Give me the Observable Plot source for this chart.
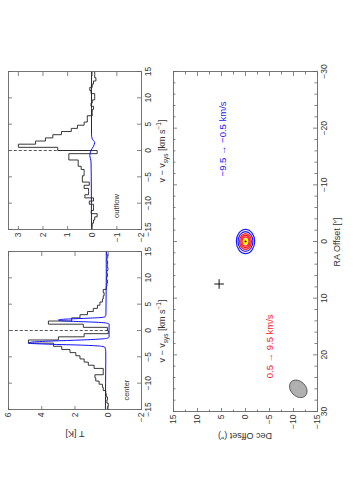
<!DOCTYPE html>
<html>
<head>
<meta charset="utf-8">
<script src="https://cdn.jsdelivr.net/npm/d3@7"></script>
<script src="https://cdn.jsdelivr.net/npm/@observablehq/plot@0.6"></script>
<style>
  html, body { margin: 0; padding: 0; background: #fff; width: 353px; height: 500px; overflow: hidden; }
  #fig { position: absolute; left: 0; top: 500px; width: 500px; height: 353px;
         transform-origin: 0 0; transform: rotate(-90deg);
         font-family: "Liberation Sans", Arial, sans-serif; color: #333; }
  #fig svg { position: absolute; overflow: visible; }
  .lab { position: absolute; white-space: nowrap; font-size: 9px; color: #333; line-height: 1; }
  .lab sub, .lab sup { font-size: 6.5px; }
</style>
</head>
<body>
<div id="fig"></div>
<script>
// ---------- data ----------
const velEdges = [-15,-14.4,-13.8,-13.2,-12.6,-12,-11.4,-10.8,-10.2,-9.6,-9,-8.4,-7.8,-7.2,-6.6,-6,-5.4,-4.8,-4.2,-3.6,-3,-2.4,-1.8,-1.2,-0.6,0,0.6,1.2,1.8,2.4,3,3.6,4.2,4.8,5.4,6,6.6,7.2,7.8,8.4,9,9.6,10.2,10.8,11.4,12,12.6,13.2,13.8,14.4];
const centerT = [0.05,0.0,0.08,0.05,0.12,0.15,0.3,0.35,0.55,0.75,0.8,0.3,0.3,0.85,1.2,1.45,1.7,1.95,2.3,2.8,
                 3.3,4.8,3.0,1.45,0.0,0.05,1.5,3.6,2.2,1.7,1.25,0.9,0.65,0.5,0.35,0.3,0.25,0.3,0.12,0.08,
                 0.05,0.1,0.05,0.08,0.02,0.06,0.04,0.08,0.03,0.1];
const outflowT = [0.02,0.0,-0.05,-0.1,-0.2,0.04,-0.05,-0.05,0.12,-0.05,0.3,0.15,0.15,0.33,0.12,0.4,0.4,0.33,0.33,0.45,
                  0.57,0.57,0.95,0.95,-0.2,1.4,3.0,2.3,1.9,1.6,1.25,0.85,0.6,0.33,0.2,0.2,0.0,0.0,-0.05,0.05,
                  0.0,-0.1,-0.1,0.05,0.1,0.0,-0.05,-0.15,-0.1,-0.1];
const centerModelV = [-15,-10,-6,-4,-3.2,-3.0,-2.8,-2.6,-2.4,-2.2,-2.0,-1.8,-1.6,-1.4,-1.2,0,1.2,1.4,1.55,1.7,1.85,2.0,2.15,2.3,2.45,2.6,3.0,6,10,15];
const centerModelT = [0.17,0.16,0.15,0.15,0.2,0.4,1.4,3.6,4.8,4.6,3.4,1.6,0.4,0.0,-0.05,-0.05,-0.05,0.1,0.6,1.8,2.8,3.0,2.6,1.5,0.5,0.2,0.14,0.13,0.12,0.12];
const outflowModelV = [-15,-5,-2,-1,0,0.8,1.5,2.2,3,8,15];
const outflowModelT = [0.03,0.04,0.05,0.1,0.05,-0.05,-0.1,0.0,0.03,0.03,0.03];

const velTicks = [-15,-10,-5,0,5,10,15];
const centerTTicks = [-2,0,2,4,6];
const outflowTTicks = [-2,-1,0,1,2,3];
const raTicks = [-30,-20,-10,0,10,20,30];
const raMinor = [-28,-26,-24,-22,-18,-16,-14,-12,-8,-6,-4,-2,2,4,6,8,12,14,16,18,22,24,26,28];
const decTicks = [-15,-10,-5,0,5,10,15];
const decMinor = [-12.5,-7.5,-2.5,2.5,7.5,12.5];

const blueContourRx = [2.15, 1.75];
const redContourRx = [1.4, 1.1, 0.82];
const coreRx = [0.55];
const sourcePos = [{ra: 0, dec: 0}];
const crossPos = [{ra: 7.5, dec: 5.5}];
const beam = [{ra: 26, dec: -11, rx: 1.75}];
const blueLabel = "\u22129.5 \u2192 \u22120.5 km/s";
const redLabel = "0.5 \u2192 9.5 km/s";

// ---------- helpers ----------
const fmt = d => (d < 0 ? "\u2212" + Math.abs(d) : String(d));
const frameC = "#666";
const FONT = "'Liberation Sans', Arial, sans-serif";
const fig = document.getElementById("fig");

function ellipseSymbol(ratio) {
  const k = 0.5523;
  return {
    draw(ctx, size) {
      const rx = Math.sqrt(size / Math.PI), ry = rx * ratio;
      ctx.moveTo(rx, 0);
      ctx.bezierCurveTo(rx, ry * k, rx * k, ry, 0, ry);
      ctx.bezierCurveTo(-rx * k, ry, -rx, ry * k, -rx, 0);
      ctx.bezierCurveTo(-rx, -ry * k, -rx * k, -ry, 0, -ry);
      ctx.bezierCurveTo(rx * k, -ry, rx, -ry * k, rx, 0);
      ctx.closePath();
    }
  };
}

function inward(xMaj, xMin, yMaj, yMin, fw, fh) {
  const o = {stroke: frameC, strokeWidth: 0.8};
  const m = [];
  m.push(Plot.tickX(xMaj, {x: d => d, insetTop: fh - 4, ...o}));
  m.push(Plot.tickX(xMaj, {x: d => d, insetBottom: fh - 4, ...o}));
  m.push(Plot.tickY(yMaj, {y: d => d, insetRight: fw - 4, ...o}));
  m.push(Plot.tickY(yMaj, {y: d => d, insetLeft: fw - 4, ...o}));
  if (xMin.length) {
    m.push(Plot.tickX(xMin, {x: d => d, insetTop: fh - 2.5, ...o}));
    m.push(Plot.tickX(xMin, {x: d => d, insetBottom: fh - 2.5, ...o}));
  }
  if (yMin.length) {
    m.push(Plot.tickY(yMin, {y: d => d, insetRight: fw - 2.5, ...o}));
    m.push(Plot.tickY(yMin, {y: d => d, insetLeft: fw - 2.5, ...o}));
  }
  return m;
}

function addLabel(html, cx, cy, rotate) {
  const d = document.createElement("div");
  d.className = "lab";
  d.innerHTML = html;
  d.style.left = cx + "px";
  d.style.top = cy + "px";
  d.style.transform = "translate(-50%,-50%)" + (rotate ? " rotate(" + rotate + "deg)" : "");
  fig.appendChild(d);
}

function spectrum(T, mV, mT, yDomain, yTicks, name, namePos, left) {
  const W = 208, H = 181, mL = 40, mR = 10, mTop = 8, mB = 40;
  const fw = W - mL - mR, fh = H - mTop - mB;
  const hist = velEdges.map((v, i) => ({v, T: T[i]}));
  hist.push({v: 15, T: T[T.length - 1]});
  const model = mV.map((v, i) => ({v, T: mT[i]}));
  const p = Plot.plot({
    width: W, height: H, marginLeft: mL, marginRight: mR, marginTop: mTop, marginBottom: mB,
    style: {fontFamily: FONT, fontSize: "8.5px", color: "#333", background: "none", overflow: "visible"},
    x: {domain: [-15, 15], ticks: velTicks, tickSize: 0, tickPadding: 3, tickFormat: fmt, label: null},
    y: {domain: yDomain, ticks: yTicks, tickSize: 0, tickPadding: 3, tickFormat: fmt, label: null},
    marks: [
      Plot.ruleX([0], {y1: 0, y2: yDomain[1], stroke: "#444", strokeWidth: 0.9, strokeDasharray: "3,2"}),
      Plot.line(hist, {x: "v", y: "T", curve: "step-after", stroke: "#222", strokeWidth: 0.9}),
      Plot.line(model, {x: "v", y: "T", curve: "monotone-x", stroke: "#1010ff", strokeWidth: 1}),
      Plot.text([name], {x: namePos[0], y: namePos[1], text: d => d, textAnchor: "start", fontSize: 7.5, fill: "#333"}),
      ...inward(velTicks, [], yTicks, [], fw, fh),
      Plot.frame({stroke: frameC, strokeWidth: 0.9})
    ]
  });
  p.style.left = left + "px";
  p.style.top = "0px";
  fig.appendChild(p);
}

// ---------- spectra ----------
spectrum(centerT, centerModelV, centerModelT, [-2, 6], centerTTicks, "center", [-13.3, -1.1], 50);
spectrum(outflowT, outflowModelV, outflowModelT, [-2, 3.4], outflowTTicks, "outflow", [-12.8, -1.0], 230);

addLabel("T [K]", 67, 74.5, -90);
addLabel("v \u2212 v<sub>sys</sub> [km s<sup>\u22121</sup>]", 169, 163, 0);
addLabel("v \u2212 v<sub>sys</sub> [km s<sup>\u22121</sup>]", 349, 163, 0);

// ---------- map ----------
{
  const W = 408, H = 188, mL = 48, mR = 20, mTop = 8, mB = 36;
  const fw = W - mL - mR, fh = H - mTop - mB;
  const ell = ellipseSymbol(0.75);
  const map = Plot.plot({
    width: W, height: H, marginLeft: mL, marginRight: mR, marginTop: mTop, marginBottom: mB,
    style: {fontFamily: FONT, fontSize: "8.5px", color: "#333", background: "none", overflow: "visible"},
    x: {domain: [30, -30], ticks: raTicks, tickSize: 0, tickPadding: 3, tickFormat: fmt, label: null},
    y: {domain: [-15, 15], ticks: decTicks, tickSize: 0, tickPadding: 3, tickFormat: fmt, label: null},
    r: {type: "linear", domain: [0, 1], range: [0, fw / 60]},
    marks: [
      Plot.dot(beam, {x: "ra", y: "dec", r: "rx", symbol: ell, rotate: -45, fill: "#b0b0b0", stroke: "#444", strokeWidth: 0.8}),
      Plot.dot(blueContourRx, {x: () => sourcePos[0].ra, y: () => sourcePos[0].dec, r: d => d, symbol: ell, fill: "none", stroke: "#1a1aff", strokeWidth: 1.2}),
      Plot.dot(redContourRx, {x: () => sourcePos[0].ra, y: () => sourcePos[0].dec, r: d => d, symbol: ell, fill: "none", stroke: "#ff1a1a", strokeWidth: 1.3}),
      Plot.dot(coreRx, {x: () => sourcePos[0].ra, y: () => sourcePos[0].dec, r: d => d, symbol: ell, fill: "#ffff00", stroke: "#e8c000", strokeWidth: 0.5}),
      Plot.dot(sourcePos, {x: "ra", y: "dec", r: 1.1, fill: "#222"}),
      Plot.dot(crossPos, {x: "ra", y: "dec", symbol: "plus", r: 3.2, stroke: "#111", strokeWidth: 1}),
      Plot.text([blueLabel], {x: -18.1, y: 4.8, text: d => d, fill: "#2020ff", fontSize: 9.5}),
      Plot.text([redLabel], {x: 18.5, y: -5.0, text: d => d, fill: "#ff2020", fontSize: 9.5}),
      ...inward(raTicks, raMinor, decTicks, decMinor, fw, fh),
      Plot.frame({stroke: frameC, strokeWidth: 0.9})
    ]
  });
  map.style.left = "40px";
  map.style.top = "165px";
  fig.appendChild(map);
}
addLabel("RA Offset [\u2033]", 258, 337, 0);
addLabel("Dec Offset (\u2033)", 65, 245, -90);
</script>
</body>
</html>
